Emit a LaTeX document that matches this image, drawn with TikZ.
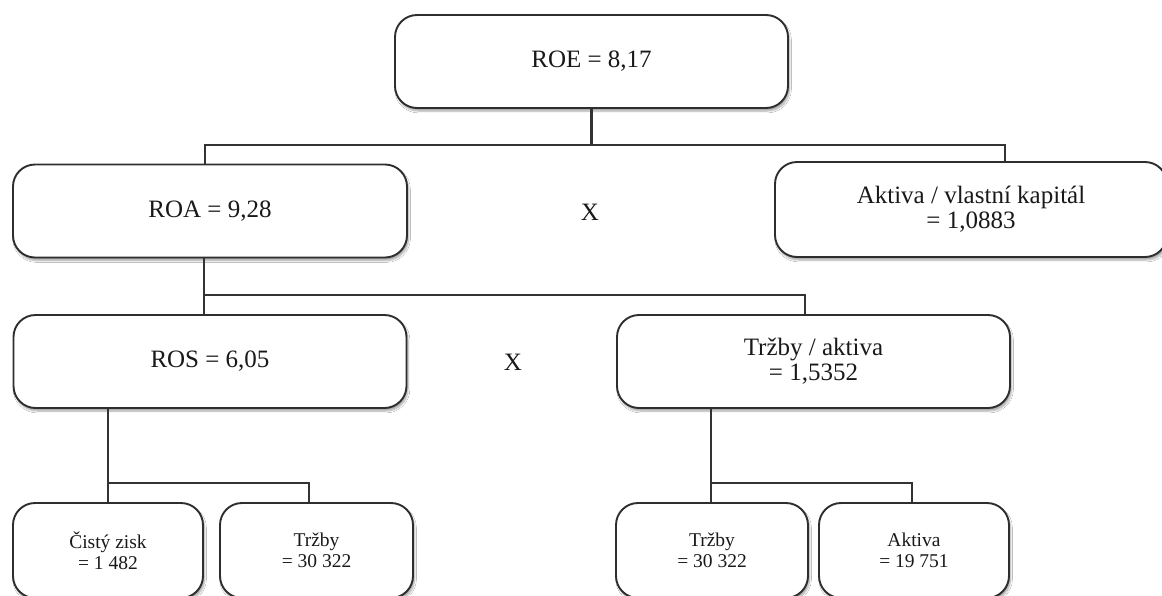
\documentclass[tikz,border=0pt]{standalone}
\usepackage{fontspec}
\setmainfont{Liberation Serif}
\usetikzlibrary{shadows.blur}
\begin{document}
\begin{tikzpicture}[x=1pt,y=-1pt,
  box/.style={draw=black!82,line width=1.9pt,rounded corners=22pt,fill=white,
    align=center,inner sep=0pt,text=black!90,
    blur shadow={shadow blur steps=6,shadow xshift=1.5pt,shadow yshift=-3pt,shadow opacity=35}},
  bigbox/.style={box,minimum width=393pt,minimum height=93pt,
    font=\fontsize{25}{25}\selectfont},
  smallbox/.style={box,minimum width=191pt,minimum height=95pt,
    font=\fontsize{19.5}{21}\selectfont},
  conn/.style={draw=black!80,line width=2.8pt},
  times/.style={font=\fontsize{25}{25}\selectfont,text=black!90}]
\useasboundingbox (0,0) rectangle (1162,595);
\clip (0,0) rectangle (1162,595);
\fill[white] (0,0) rectangle (1162,595);
% nodes
\node[bigbox] (roe) at (591.5,61.5) {ROE = 8,17};
\node[bigbox,minimum width=394pt] (roa) at (210,211) {ROA = 9,28};
\node[bigbox,minimum width=392pt,minimum height=95pt] (akt) at (971,209.5) {Aktiva / vlastní kapitál\\= 1,0883};
\node[bigbox] (ros) at (210,361.5) {ROS = 6,05};
\node[bigbox] (ta) at (813.5,361.5) {Tržby / aktiva\\= 1,5352};
\node[smallbox,minimum width=190pt] (cz) at (108,550.5) {Čistý zisk\\= 1 482};
\node[smallbox,minimum width=193pt] (t1) at (316.5,550.5) {Tržby\\= 30 322};
\node[smallbox,minimum width=192pt] (t2) at (712,550.5) {Tržby\\= 30 322};
\node[smallbox,minimum width=190pt] (ak) at (914,550.5) {Aktiva\\= 19 751};
\node[times] (x1) at (590,212) {X};
\node[times] (x2) at (513,362) {X};
% level 1 connectors
\coordinate (a1) at (205,145);
\coordinate (a2) at (1005,145);
\draw[conn] (roe.south) -- (roe.south |- a1);
\draw[conn] (a1 |- roa.north) -- (a1) -- (a2) -- (a2 |- akt.north);
% level 2 connectors
\coordinate (b1) at (204,295);
\coordinate (b2) at (805,295);
\draw[conn] (b1 |- roa.south) -- (b1 |- ros.north);
\draw[conn] (b1) -- (b2) -- (b2 |- ta.north);
% level 3 connectors
\coordinate (c1) at (108,483);
\coordinate (c2) at (309,483);
\draw[conn] (c1 |- ros.south) -- (c1 |- cz.north);
\draw[conn] (c1) -- (c2) -- (c2 |- t1.north);
\coordinate (d1) at (711,483);
\coordinate (d2) at (912,483);
\draw[conn] (d1 |- ta.south) -- (d1 |- t2.north);
\draw[conn] (d1) -- (d2) -- (d2 |- ak.north);
\end{tikzpicture}
\end{document}
